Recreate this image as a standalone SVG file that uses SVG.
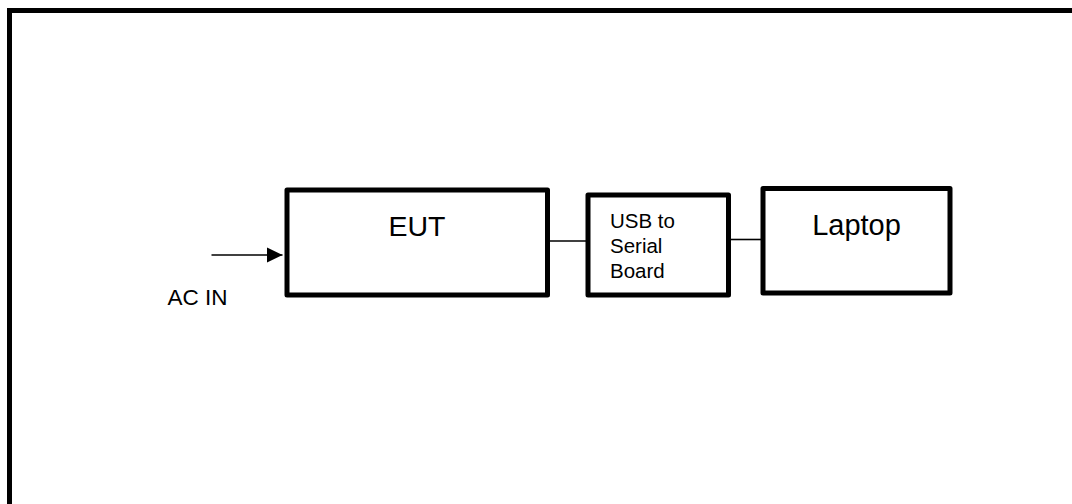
<svg xmlns="http://www.w3.org/2000/svg" width="1072" height="504" viewBox="0 0 1072 504">
<style>
.box{fill:#fff;stroke:#000;stroke-width:5;stroke-linejoin:round}
.lbl{font-family:"Liberation Sans",Arial,sans-serif;fill:#000}
.con{stroke:#000;stroke-width:1.6;fill:none}
</style>
<defs>
<marker id="ah" markerUnits="userSpaceOnUse" markerWidth="17" markerHeight="16" refX="16" refY="8" orient="auto">
<path d="M0,0.3 L16,8 L0,15.7 Z" fill="#000"/>
</marker>
</defs>
<rect width="1072" height="504" fill="#fff"/>
<path d="M9.5,504 V10.5 H1072" fill="none" stroke="#000" stroke-width="5"/>
<g id="connectors">
<line class="con" x1="211.5" y1="255" x2="282.5" y2="255" marker-end="url(#ah)"/>
<line class="con" x1="550" y1="241" x2="586" y2="241"/>
<line class="con" x1="731" y1="239.5" x2="761" y2="239.5"/>
</g>
<g id="eut">
<rect class="box" x="287" y="190" width="260.5" height="105"/>
<text class="lbl" x="417" y="235.7" font-size="28.5" text-anchor="middle">EUT</text>
</g>
<g id="usb">
<rect class="box" x="588" y="195" width="140.5" height="100"/>
<text class="lbl" font-size="20.5"><tspan x="610" y="228.3">USB to</tspan><tspan x="610" y="253.3">Serial</tspan><tspan x="610" y="277.5">Board</tspan></text>
</g>
<g id="laptop">
<rect class="box" x="763" y="188.5" width="187" height="104.5"/>
<text class="lbl" x="856.5" y="235" font-size="29" text-anchor="middle">Laptop</text>
</g>
<g id="acin">
<text class="lbl" x="167.5" y="305" font-size="22.5">AC IN</text>
</g>
</svg>
